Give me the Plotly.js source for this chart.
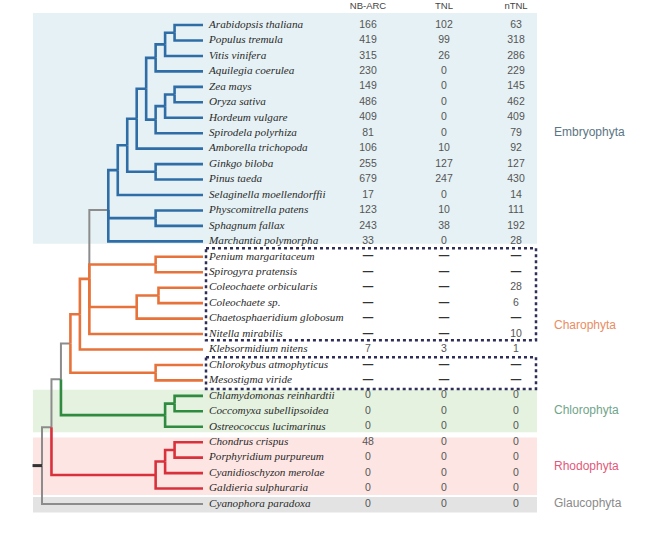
<!DOCTYPE html>
<html>
<head>
<meta charset="utf-8">
<script src="https://cdn.plot.ly/plotly-3.0.1.min.js"></script>
<style>html,body{margin:0;padding:0;background:#fff;}#chart{width:650px;height:536px;}</style>
</head>
<body>
<div id="chart"></div>
<script>
// ---------------- DATA ----------------
const species = [
  "Arabidopsis thaliana","Populus tremula","Vitis vinifera","Aquilegia coerulea",
  "Zea mays","Oryza sativa","Hordeum vulgare","Spirodela polyrhiza","Amborella trichopoda",
  "Ginkgo biloba","Pinus taeda","Selaginella moellendorffii","Physcomitrella patens",
  "Sphagnum fallax","Marchantia polymorpha","Penium margaritaceum","Spirogyra pratensis",
  "Coleochaete orbicularis","Coleochaete sp.","Chaetosphaeridium globosum","Nitella mirabilis",
  "Klebsormidium nitens","Chlorokybus atmophyticus","Mesostigma viride",
  "Chlamydomonas reinhardtii","Coccomyxa subellipsoidea","Ostreococcus lucimarinus",
  "Chondrus crispus","Porphyridium purpureum","Cyanidioschyzon merolae",
  "Galdieria sulphuraria","Cyanophora paradoxa"
];
const columns = ["NB-ARC","TNL","nTNL"];
// null = not determined (drawn as a dash)
const nbarc = [166,419,315,230,149,486,409,81,106,255,679,17,123,243,33,
  null,null,null,null,null,null,7,null,null,0,0,0,48,0,0,0,0];
const tnl = [102,99,26,0,0,0,0,0,10,127,247,0,10,38,0,
  null,null,null,null,null,null,3,null,null,0,0,0,0,0,0,0,0];
const ntnl = [63,318,286,229,145,462,409,79,92,127,430,14,111,192,28,
  null,null,28,6,null,10,1,null,null,0,0,0,0,0,0,0,0];

// tree: internal nodes (name, parent, depth level, branch clade)
const nodeNames   = ["root","Archaeplastida","Viridiplantae","Rhodo","Rhodo13","Rhodo14",
  "Chloro","Chloro14","Strepto","S4","CM","Phragmo","Embryo","Zygnema","Coleo","Coleo2",
  "Tracheo","Moss","Sperm","Angio","Gymno","Mesangio","Eudicot","Eud13","Eud14",
  "Monocot","Mon13","Mon14"];
const nodeParents = [null,"root","Archaeplastida","Archaeplastida","Rhodo","Rhodo13",
  "Viridiplantae","Chloro","Viridiplantae","Strepto","Strepto","S4","Phragmo","Phragmo","Phragmo","Coleo",
  "Embryo","Embryo","Tracheo","Sperm","Sperm","Angio","Mesangio","Eudicot","Eud13",
  "Mesangio","Monocot","Mon13"];
const nodeLevels  = [0,1,2,12,13,14, 13,14,3,4,12,5,7,12,10,12.3, 8,12,9,10,12,11,12,13,14, 12,13,14];
const nodeClades  = ["bb","bb","bb","Rhodophyta","Rhodophyta","Rhodophyta",
  "Chlorophyta","Chlorophyta","bb","Charophyta","Charophyta","Charophyta","bb","Charophyta","Charophyta","Charophyta",
  "Embryophyta","Embryophyta","Embryophyta","Embryophyta","Embryophyta","Embryophyta","Embryophyta","Embryophyta","Embryophyta",
  "Embryophyta","Embryophyta","Embryophyta"];
// leaves: parent node and clade
const leafParents = ["Eud14","Eud14","Eud13","Eudicot","Mon14","Mon14","Mon13","Monocot","Angio",
  "Gymno","Gymno","Tracheo","Moss","Moss","Embryo","Zygnema","Zygnema","Coleo2","Coleo2","Coleo",
  "Phragmo","S4","CM","CM","Chloro14","Chloro14","Chloro","Rhodo14","Rhodo14","Rhodo13","Rhodo","root"];
const leafClades = [
  "Embryophyta","Embryophyta","Embryophyta","Embryophyta","Embryophyta","Embryophyta","Embryophyta",
  "Embryophyta","Embryophyta","Embryophyta","Embryophyta","Embryophyta","Embryophyta","Embryophyta","Embryophyta",
  "Charophyta","Charophyta","Charophyta","Charophyta","Charophyta","Charophyta","Charophyta","Charophyta","Charophyta",
  "Chlorophyta","Chlorophyta","Chlorophyta","Rhodophyta","Rhodophyta","Rhodophyta","Rhodophyta","bb"];
const groups = ["Embryophyta","Charophyta","Chlorophyta","Rhodophyta","Glaucophyta"];
const groupRows = [7, 19.5, 25, 28.6, 31];

// ---------------- STYLE ----------------
const cladeColor = {Embryophyta:"#2f6da6", Charophyta:"#e8733a", Chlorophyta:"#2e8b40",
  Rhodophyta:"#d9313c", bb:"#8c8c8c"};
const labelColor = {Embryophyta:"#5b7585", Charophyta:"#ea8c63", Chlorophyta:"#6fa58a",
  Rhodophyta:"#e2587a", Glaucophyta:"#8a8a8a"};
const TIP_LEVEL = 17, X0 = 42, STEP = 9.47;
const lx = L => X0 + STEP * L;
const colX = [368, 444, 516];

// ---------------- TREE LAYOUT ----------------
const nodes = {};
nodeNames.forEach((n,i)=>{ nodes[n] = {name:n, parent:nodeParents[i], level:nodeLevels[i], clade:nodeClades[i], kids:[]}; });
const leaves = species.map((s,i)=>({name:s, parent:leafParents[i], level:TIP_LEVEL, clade:leafClades[i], y:i, leaf:true}));
leaves.forEach(l=>nodes[l.parent].kids.push(l));
nodeNames.forEach(n=>{ const p = nodes[n].parent; if(p) nodes[p].kids.push(nodes[n]); });
function setY(n){ if(n.leaf) return n.y; const ys = n.kids.map(setY); n.y = ys.reduce((a,b)=>a+b,0)/ys.length; return n.y; }
setY(nodes.root);

const segs = {bb:{x:[],y:[]}, Embryophyta:{x:[],y:[]}, Charophyta:{x:[],y:[]}, Chlorophyta:{x:[],y:[]}, Rhodophyta:{x:[],y:[]}};
function walk(n){
  n.kids.forEach(k=>{
    const s = segs[k.clade];
    s.x.push(lx(n.level), lx(n.level), lx(k.level), null);
    s.y.push(n.y, k.y, k.y, null);
    if(!k.leaf) walk(k);
  });
}
walk(nodes.root);

const traces = [];
["bb","Embryophyta","Charophyta","Chlorophyta","Rhodophyta"].forEach(c=>{
  traces.push({type:"scatter", mode:"lines", x:segs[c].x, y:segs[c].y, hoverinfo:"skip",
    line:{color:cladeColor[c], width: c==="bb"?2:2.6}, showlegend:false});
});
// root stub
traces.push({type:"scatter", mode:"lines", x:[lx(-1), lx(0)], y:[nodes.root.y, nodes.root.y],
  line:{color:"#333", width:3}, hoverinfo:"skip", showlegend:false});
// species names
traces.push({type:"scatter", mode:"text", x:species.map(()=>lx(TIP_LEVEL)+6), y:species.map((s,i)=>i),
  text:species, textposition:"middle right", hoverinfo:"skip", showlegend:false,
  textfont:{family:"Liberation Serif, Times New Roman, serif", size:11.2, style:"italic", color:"#2a2a2a"}});
// table values
[nbarc, tnl, ntnl].forEach((arr,ci)=>{
  traces.push({type:"scatter", mode:"text", x:arr.map(()=>colX[ci]), y:arr.map((v,i)=>i),
    text:arr.map(v=> v===null ? "<b>—</b>" : String(v)), textposition:"middle center",
    hoverinfo:"skip", showlegend:false,
    textfont:{family:"Liberation Sans, Arial, sans-serif", size:10.5, color:arr.map(v=>v===null?"#333":"#555")}});
});
// headers
traces.push({type:"scatter", mode:"text", x:colX, y:colX.map(()=>-1.17), text:columns,
  textposition:"middle center", hoverinfo:"skip", showlegend:false,
  textfont:{family:"Liberation Sans, Arial, sans-serif", size:9.5, color:"#444"}});
// group labels
traces.push({type:"scatter", mode:"text", x:groups.map(()=>554), y:groupRows, text:groups,
  textposition:"middle right", hoverinfo:"skip", showlegend:false,
  textfont:{family:"Liberation Sans, Arial, sans-serif", size:12, color:groups.map(g=>labelColor[g])}});

// ---------------- SHAPES ----------------
const shapes = [
  {type:"rect", xref:"x", yref:"y", x0:33, x1:537, y0:-0.78, y1:14.15, fillcolor:"#e5f1f4", line:{width:0}, layer:"below"},
  {type:"rect", xref:"x", yref:"y", x0:33, x1:537, y0:23.6, y1:26.35, fillcolor:"#e4f2df", line:{width:0}, layer:"below"},
  {type:"rect", xref:"x", yref:"y", x0:33, x1:537, y0:26.7, y1:30.42, fillcolor:"#fde5e3", line:{width:0}, layer:"below"},
  {type:"rect", xref:"x", yref:"y", x0:33, x1:537, y0:30.55, y1:31.55, fillcolor:"#e3e3e3", line:{width:0}, layer:"below"},
  {type:"rect", xref:"x", yref:"y", x0:206, x1:536, y0:14.45, y1:20.4, line:{color:"#2e2e58", width:2.5, dash:"dot"}, layer:"above"},
  {type:"rect", xref:"x", yref:"y", x0:206, x1:536, y0:21.5, y1:23.55, line:{color:"#2e2e58", width:2.5, dash:"dot"}, layer:"above"}
];

const layout = {
  width:650, height:536, margin:{l:0,r:0,t:0,b:0},
  paper_bgcolor:"#fff", plot_bgcolor:"#fff",
  xaxis:{range:[0,650], visible:false, fixedrange:true},
  yaxis:{range:[33.07,-1.62], visible:false, fixedrange:true},
  shapes:shapes, showlegend:false
};
Plotly.newPlot("chart", traces, layout, {displayModeBar:false, staticPlot:true});
</script>
</body>
</html>
